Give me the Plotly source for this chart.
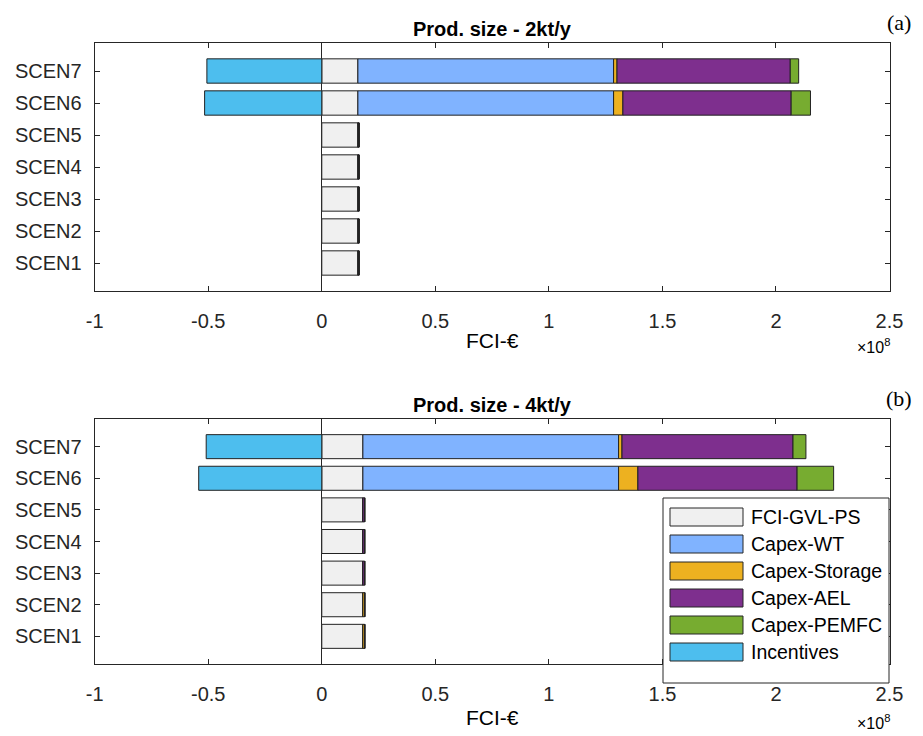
import plotly.graph_objects as go
from plotly.subplots import make_subplots

scenarios = ["SCEN1", "SCEN2", "SCEN3", "SCEN4", "SCEN5", "SCEN6", "SCEN7"]
series_names = ["FCI-GVL-PS", "Capex-WT", "Capex-Storage", "Capex-AEL", "Capex-PEMFC", "Incentives"]
series_colors = ["#F0F0F0", "#80B3FF", "#EDB120", "#7E2F8E", "#77AC30", "#4DBEEE"]

# Panel (a): Prod. size 2kt/y  (values in €)
fci_2 = [0.160e8, 0.160e8, 0.160e8, 0.160e8, 0.160e8, 0.159e8, 0.159e8]
wt_2 = [0, 0, 0, 0, 0, 1.126e8, 1.126e8]
storage_2 = [0, 0, 0, 0, 0, 0.041e8, 0.015e8]
ael_2 = [0.004e8, 0.004e8, 0.004e8, 0.004e8, 0.004e8, 0.741e8, 0.763e8]
pemfc_2 = [0, 0, 0, 0, 0, 0.085e8, 0.037e8]
incent_2 = [0, 0, 0, 0, 0, -0.516e8, -0.506e8]

# Panel (b): Prod. size 4kt/y
fci_4 = [0.181e8, 0.181e8, 0.181e8, 0.181e8, 0.181e8, 0.181e8, 0.181e8]
wt_4 = [0, 0, 0, 0, 0, 1.126e8, 1.126e8]
storage_4 = [0.008e8, 0.008e8, 0, 0, 0, 0.085e8, 0.015e8]
ael_4 = [0, 0, 0.008e8, 0.008e8, 0.008e8, 0.701e8, 0.753e8]
pemfc_4 = [0, 0, 0, 0, 0, 0.161e8, 0.057e8]
incent_4 = [0, 0, 0, 0, 0, -0.542e8, -0.509e8]

x_tickvals = [-1e8, -0.5e8, 0, 0.5e8, 1e8, 1.5e8, 2e8, 2.5e8]
x_ticktext = ["-1", "-0.5", "0", "0.5", "1", "1.5", "2", "2.5"]

# page body has an 8px default margin; work in reference pixel coords
OFF = 8
W, H = 923 - OFF, 736 - OFF
FONT = "Liberation Sans, Arial, Helvetica, sans-serif"
SERIF = "Liberation Serif, Times New Roman, serif"

def px(x):
    return (x - OFF) / W

def py(y):
    return 1 - (y - OFF) / H

fig = make_subplots(rows=2, cols=1)

panels = [
    (1, [fci_2, wt_2, storage_2, ael_2, pemfc_2, incent_2]),
    (2, [fci_4, wt_4, storage_4, ael_4, pemfc_4, incent_4]),
]
for row, data in panels:
    for name, color, vals in zip(series_names, series_colors, data):
        fig.add_trace(go.Bar(
            y=scenarios, x=vals, orientation="h", name=name,
            marker=dict(color=color, line=dict(color="#222222", width=1)),
            width=0.76, showlegend=False,
        ), row=row, col=1)

xl, xr = 94.7, 889.5
top_box = (43, 291)
bot_box = (419, 664)

axis_common = dict(
    showline=True, linecolor="#262626", linewidth=1, mirror="ticks",
    ticks="inside", ticklen=5, tickcolor="#262626", showgrid=False,
    automargin=False,
    tickfont=dict(family=FONT, size=20, color="#262626"),
)
for i, box in [(1, top_box), (2, bot_box)]:
    fig.update_xaxes(
        range=[-1e8, 2.5e8], tickvals=x_tickvals, ticktext=x_ticktext,
        domain=[px(xl), px(xr)], zeroline=True, zerolinecolor="#262626",
        zerolinewidth=1, layer="above traces", ticklabelstandoff=12,
        **axis_common, row=i, col=1)
    fig.update_yaxes(
        type="category", categoryorder="array", categoryarray=scenarios,
        range=[-0.875, 6.875], domain=[py(box[1]), py(box[0])],
        ticklabelstandoff=8, **axis_common, row=i, col=1)

annotations = []
def ann(text, x, y, size=20, bold=False, family=FONT, xanchor="center"):
    annotations.append(dict(
        text=f"<b>{text}</b>" if bold else text, x=px(x), y=py(y),
        xref="paper", yref="paper", showarrow=False, xanchor=xanchor,
        yanchor="middle", font=dict(family=family, size=size, color="#000000")))

cx = (xl + xr) / 2
ann("Prod. size - 2kt/y", cx, 29, size=20, bold=True)
ann("Prod. size - 4kt/y", cx, 405, size=20, bold=True)
ann("FCI-€", cx, 341, size=21)
ann("FCI-€", cx, 717, size=21)
ann("×10<sup>8</sup>", 892, 346, size=16, xanchor="right")
ann("×10<sup>8</sup>", 892, 722, size=16, xanchor="right")
ann("(a)", 899, 22, size=22, family=SERIF)
ann("(b)", 899, 398, size=22, family=SERIF)

# MATLAB-style legend inside panel (b)
shapes = []
lg_l, lg_r, lg_t, lg_b = 663, 889, 498, 683
shapes.append(dict(type="rect", xref="paper", yref="paper", layer="above",
                   x0=px(lg_l), x1=px(lg_r), y0=py(lg_b), y1=py(lg_t),
                   fillcolor="white", line=dict(color="#262626", width=1)))
row0, dy = 517, 27
for k, (name, color) in enumerate(zip(series_names, series_colors)):
    yc = row0 + k * dy
    shapes.append(dict(type="rect", xref="paper", yref="paper", layer="above",
                       x0=px(670), x1=px(743), y0=py(yc + 9), y1=py(yc - 9),
                       fillcolor=color, line=dict(color="#262626", width=1)))
    ann(name, 749, yc, size=19.5, xanchor="left")

fig.update_layout(
    width=W, height=H, barmode="relative",
    plot_bgcolor="white", paper_bgcolor="white",
    margin=dict(l=0, r=0, t=0, b=0, autoexpand=False),
    annotations=annotations, shapes=shapes,
    font=dict(family=FONT, color="#262626"),
)

fig.write_html("out.html")
